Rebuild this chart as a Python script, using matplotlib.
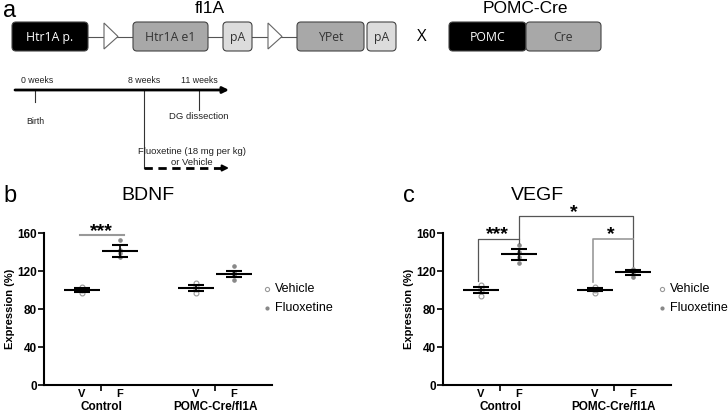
import matplotlib
matplotlib.use('Agg')
from matplotlib import pyplot as plt
from matplotlib.patches import FancyBboxPatch, Polygon
import numpy as np

plt.rcParams['font.family'] = ['Liberation Sans', 'DejaVu Sans']

# ---- data ----
groups = ['Control', 'POMC-Cre/fl1A']
treat = ['V', 'F', 'V', 'F']
xpos = [1, 2, 4, 5]

bdnf_mean = [100, 141, 102, 117]
bdnf_err = [2, 6, 3, 3.5]
bdnf_pts = [[97, 100, 102, 103], [153, 135, 139, 142],
            [96.5, 101, 104, 107.5], [111, 116, 119, 125]]

vegf_mean = [100, 137.5, 100.5, 118.5]
vegf_err = [3, 5.5, 1.5, 3]
vegf_pts = [[94, 99, 102, 105], [128, 135, 140, 147],
            [97, 100, 101, 103], [114, 117, 120, 122]]

construct_labels = ['Htr1A p.', 'Htr1A e1', 'pA', 'YPet', 'pA', 'POMC', 'Cre']
timeline_labels = ['0 weeks', '8 weeks', '11 weeks']

W, H = 728, 412
fig = plt.figure(figsize=(W / 100, H / 100), dpi=100)

# ---- panel a drawn in pixel coordinates ----
ax0 = fig.add_axes([0, 0, 1, 1])
ax0.set_xlim(0, W)
ax0.set_ylim(H, 0)
ax0.axis('off')

boxes = [(12, 88, 'black', 'white'), (133, 208, '#a8a8a8', '#333333'),
         (223, 252, '#dcdcdc', '#333333'), (297, 364, '#a8a8a8', '#333333'),
         (367, 396, '#dcdcdc', '#333333'), (449, 526, 'black', 'white'),
         (526, 601, '#a8a8a8', '#333333')]
yb0, yb1 = 22, 51
ym = (yb0 + yb1) / 2
ax0.plot([88, 297], [ym, ym], color='#555555', lw=0.8, zorder=1)
for tx in (104, 268):
    ax0.add_patch(Polygon([[tx, yb0 + 1], [tx, yb1 - 2], [tx + 14, ym]],
                          closed=True, facecolor='white', edgecolor='#666666',
                          lw=0.8, zorder=2))
for (x0, x1, fc, tc), lab in zip(boxes, construct_labels):
    ax0.add_patch(FancyBboxPatch((x0, yb0), x1 - x0, yb1 - yb0,
                                 boxstyle='round,pad=0,rounding_size=4',
                                 facecolor=fc, edgecolor='#444444', lw=0.8,
                                 zorder=3))
    ax0.text((x0 + x1) / 2, ym + 0.5, lab, color=tc, fontsize=8.8,
             ha='center', va='center', family=['Open Sans', 'DejaVu Sans'],
             zorder=4)
ax0.text(3, 11, 'a', fontsize=17, ha='left', va='center')
ax0.text(210, 8, 'fl1A', fontsize=12.5, ha='center', va='center')
ax0.text(525, 8, 'POMC-Cre', fontsize=12.5, ha='center', va='center')
ax0.text(422, 37, 'X', fontsize=12, ha='center', va='center',
         family=['Open Sans', 'DejaVu Sans'])

# timeline
ax0.annotate('', xy=(229, 90), xytext=(15, 90),
             arrowprops=dict(arrowstyle='-|>', lw=2, color='black',
                             mutation_scale=9, shrinkA=0, shrinkB=0))
for tx, y1 in [(35, 102), (144, 168), (199, 110)]:
    ax0.plot([tx, tx], [90, y1], color='#333333', lw=0.8)
ax0.plot([144, 221], [168, 168], color='black', lw=2, ls=(0, (3, 2)))
ax0.annotate('', xy=(229, 168), xytext=(221, 168),
             arrowprops=dict(arrowstyle='-|>', lw=1.5, color='black',
                             mutation_scale=9, shrinkA=0, shrinkB=0))
tfs = 6.3
for tx, lab in zip([37, 144, 199], timeline_labels):
    ax0.text(tx, 80, lab, fontsize=tfs, ha='center', va='center', color='#222222')
ax0.text(35, 121, 'Birth', fontsize=tfs, ha='center', va='center', color='#222222')
ax0.text(199, 116, 'DG dissection', fontsize=tfs + 0.5, ha='center', va='center',
         color='#222222')
ax0.text(192, 152, 'Fluoxetine (18 mg per kg)', fontsize=tfs + 0.5, ha='center',
         va='center', color='#222222')
ax0.text(192, 162, 'or Vehicle', fontsize=tfs + 0.5, ha='center', va='center',
         color='#222222')


def panel(left, means, errs, pts, title, letter, tx, lx, legx):
    ax = fig.add_axes([left / W, 27 / H, 228 / W, 152 / H])
    ax.patch.set_visible(False)
    ax.set_xlim(0, 6)
    ax.set_ylim(0, 160)
    for s in ('top', 'right'):
        ax.spines[s].set_visible(False)
    for s in ('left', 'bottom'):
        ax.spines[s].set_linewidth(1.5)
    ax.set_yticks([0, 40, 80, 120, 160])
    ax.tick_params(axis='y', direction='out', length=4, width=1.2, pad=1,
                   labelsize=8.5)
    for t in ax.get_yticklabels():
        t.set_fontweight('bold')
    ax.set_xticks([1.5, 4.5])
    ax.set_xticklabels([])
    ax.tick_params(axis='x', direction='out', length=4, width=1.2)
    ax.set_xticks(xpos, minor=True)
    ax.set_xticklabels(treat, minor=True, fontweight='bold', fontsize=8)
    ax.tick_params(axis='x', which='minor', length=0, pad=3)
    for gx, g in zip([1.5, 4.5], groups):
        ax.text(gx, -0.145, g, transform=ax.get_xaxis_transform(),
                ha='center', va='center', fontsize=8.5, fontweight='bold')
    ax.set_ylabel('Expression (%)', fontsize=8, fontweight='bold', labelpad=2)
    for i, (x, m, e, p) in enumerate(zip(xpos, means, errs, pts)):
        if treat[i] == 'V':
            ax.plot([x] * len(p), p, 'o', ms=3.5, mfc='white', mec='#999999',
                    mew=0.8, zorder=2)
        else:
            ax.plot([x] * len(p), p, 'o', ms=2.3, color='#888888', zorder=2)
        ax.hlines(m, x - 0.47, x + 0.47, color='black', lw=1.5, zorder=3)
        ax.errorbar(x, m, yerr=e, color='black', lw=1.2, capsize=5.5,
                    capthick=1.5, zorder=3)
    fig.text(tx / W, 1 - 196 / H, title, fontsize=14, ha='center', va='center')
    fig.text(lx / W, 1 - 196 / H, letter, fontsize=17, ha='left', va='center')
    # legend
    ax0.plot([legx], [289], 'o', ms=3, mfc='white', mec='#999999', mew=0.8)
    ax0.plot([legx], [308], 'o', ms=2, color='#888888')
    ax0.text(legx + 8, 289, 'Vehicle', fontsize=9, va='center', ha='left')
    ax0.text(legx + 8, 308, 'Fluoxetine', fontsize=9, va='center', ha='left')
    return ax


axb = panel(44, bdnf_mean, bdnf_err, bdnf_pts, 'BDNF', 'b', 148, 3, 267)
axb.plot([0.95, 2.1], [158, 158], color='#999999', lw=1.5, clip_on=False)
axb.text(1.5, 162, '***', fontsize=14, fontweight='bold', ha='center',
         va='center')

axc = panel(443, vegf_mean, vegf_err, vegf_pts, 'VEGF', 'c', 537, 403, 662)
dk = '#555555'
axc.plot([0.92, 0.92, 2.0, 2.0, 5.0, 5.0], [110, 154, 154, 178, 178, 125],
         color=dk, lw=0.9, clip_on=False)
axc.plot([2.0, 2.0], [154, 149.5], color=dk, lw=0.9, clip_on=False)
axc.plot([3.94, 3.94, 5.0], [108, 154, 154], color='#999999', lw=1.2,
         clip_on=False)
axc.text(1.42, 158, '***', fontsize=14, fontweight='bold', ha='center',
         va='center')
axc.text(3.44, 182, '*', fontsize=14, fontweight='bold', ha='center',
         va='center')
axc.text(4.42, 158, '*', fontsize=14, fontweight='bold', ha='center',
         va='center')

fig.savefig('out.png', dpi=100)
